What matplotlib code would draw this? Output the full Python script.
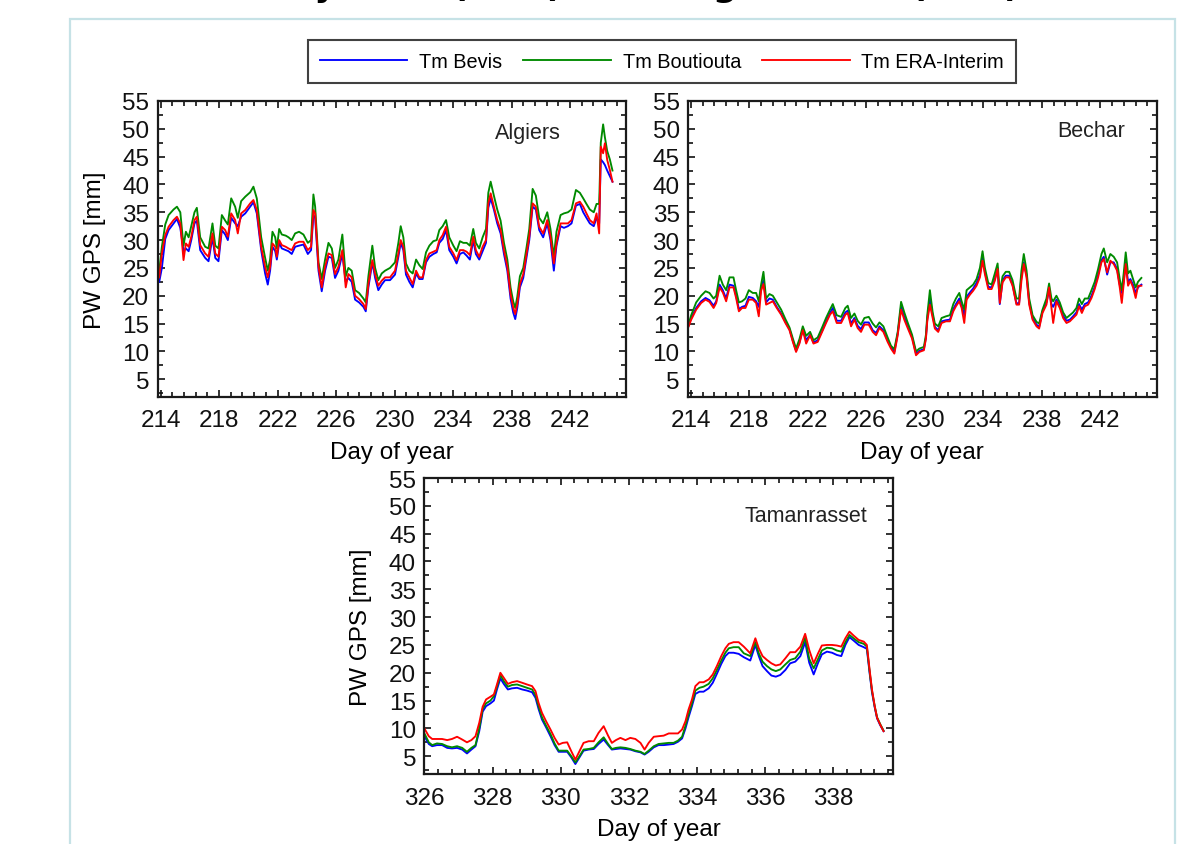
import matplotlib
matplotlib.use("Agg")
import matplotlib.pyplot as plt
from matplotlib.ticker import MultipleLocator
from matplotlib.patches import Rectangle

# ---- PW GPS series (mm) for the three stations ----
alg_day = [213.91, 214.09, 214.32, 214.55, 214.89, 215.12, 215.35, 215.57, 215.73, 215.92,
           216.10, 216.32, 216.48, 216.71, 217.05, 217.28, 217.55, 217.74, 217.96, 218.19,
           218.42, 218.60, 218.83, 219.10, 219.28, 219.51, 219.79, 220.13, 220.35, 220.58,
           220.88, 221.15, 221.33, 221.49, 221.65, 221.84, 221.95, 222.11, 222.29, 222.56,
           222.75, 222.97, 223.20, 223.47, 223.77, 224.07, 224.29, 224.45, 224.57, 224.80,
           225.02, 225.25, 225.48, 225.71, 225.93, 226.16, 226.43, 226.66, 226.84, 227.07,
           227.30, 227.57, 227.87, 228.03, 228.21, 228.48, 228.67, 228.89, 229.12, 229.35,
           229.69, 230.03, 230.26, 230.42, 230.60, 230.78, 231.01, 231.24, 231.47, 231.69,
           231.92, 232.15, 232.38, 232.65, 232.88, 233.06, 233.29, 233.52, 233.74, 234.02,
           234.24, 234.47, 234.70, 234.93, 235.15, 235.38, 235.56, 235.79, 236.02, 236.25,
           236.41, 236.57, 236.79, 237.02, 237.25, 237.48, 237.71, 237.93, 238.11, 238.25,
           238.39, 238.57, 238.80, 239.03, 239.21, 239.44, 239.66, 239.89, 240.16, 240.44,
           240.66, 240.89, 241.07, 241.35, 241.58, 241.85, 242.10, 242.40, 242.67, 242.90,
           243.12, 243.35, 243.62, 243.81, 243.99, 244.10, 244.26, 244.38, 244.54, 244.72,
           244.90]
alg_era = [23.3, 27.6, 30.9, 32.4, 33.6, 34.2, 33.0, 26.4, 29.4, 28.8,
           30.6, 33.6, 34.2, 29.1, 27.6, 27.0, 31.2, 27.6, 27.0, 32.4,
           31.8, 30.6, 34.8, 33.6, 31.2, 34.8, 35.4, 36.6, 37.2, 35.4,
           28.8, 25.2, 23.3, 25.2, 29.4, 28.8, 27.0, 30.0, 29.1, 28.8,
           28.5, 28.2, 29.4, 29.7, 29.7, 28.2, 28.8, 35.4, 34.8, 25.2,
           21.5, 25.2, 27.6, 27.3, 23.9, 25.2, 28.2, 21.5, 23.9, 23.3,
           20.0, 19.4, 18.5, 17.6, 22.1, 26.4, 23.9, 21.8, 22.7, 23.3,
           23.3, 24.5, 27.6, 30.0, 28.8, 24.5, 23.3, 22.1, 24.5, 23.3,
           23.3, 26.4, 27.6, 27.9, 28.2, 30.0, 30.9, 32.4, 28.8, 27.6,
           26.4, 28.2, 28.2, 27.9, 27.3, 30.6, 28.2, 27.0, 28.8, 30.0,
           36.6, 38.4, 36.0, 33.6, 31.8, 28.2, 25.2, 20.3, 17.9, 16.7,
           18.5, 22.1, 23.9, 27.6, 30.6, 36.6, 36.0, 32.4, 31.2, 33.6,
           30.6, 25.8, 29.4, 33.0, 33.0, 33.0, 33.6, 36.6, 36.9, 36.0,
           34.8, 33.6, 33.0, 34.8, 31.2, 46.8, 45.6, 47.4, 44.4, 42.6,
           40.5]
alg_boutiouta = [24.5, 28.8, 32.8, 34.5, 35.5, 36.0, 35.0, 29.0, 31.5, 30.5,
                 32.5, 35.0, 35.8, 30.5, 28.8, 28.5, 33.0, 29.0, 28.5, 34.5,
                 33.5, 32.8, 37.5, 36.0, 34.0, 37.0, 37.8, 38.6, 39.6, 37.5,
                 30.5, 26.8, 24.5, 26.5, 31.5, 30.5, 28.5, 32.0, 31.0, 30.8,
                 30.5, 30.0, 31.2, 31.5, 31.0, 29.5, 30.0, 38.2, 36.0, 26.0,
                 23.0, 26.5, 29.5, 28.5, 25.0, 26.5, 31.0, 23.5, 25.0, 24.5,
                 21.0, 20.5, 19.5, 18.8, 23.5, 29.0, 25.0, 22.8, 24.0, 24.5,
                 25.0, 26.0, 29.5, 32.5, 30.5, 25.8, 24.5, 24.0, 26.5, 25.5,
                 24.8, 27.8, 29.0, 29.8, 30.0, 31.8, 32.5, 33.6, 30.5, 29.0,
                 28.0, 29.8, 29.5, 29.5, 29.0, 32.0, 29.5, 28.5, 30.5, 32.0,
                 38.5, 40.5, 38.0, 35.5, 33.5, 29.5, 26.5, 21.5, 19.0, 17.8,
                 19.8, 23.5, 25.0, 28.8, 32.0, 39.2, 38.0, 34.0, 33.0, 35.0,
                 32.0, 27.0, 31.5, 34.5, 34.8, 35.0, 35.5, 39.0, 38.5, 37.5,
                 36.5, 35.5, 35.0, 36.5, 36.5, 47.5, 50.8, 48.5, 46.0, 44.5,
                 42.5]
alg_bevis = [22.5, 25.0, 30.2, 31.8, 33.0, 33.8, 32.2, 28.0, 28.5, 28.0,
             30.0, 33.0, 33.5, 28.2, 26.8, 26.2, 30.5, 26.8, 26.2, 31.8,
             31.0, 30.0, 34.0, 33.0, 32.5, 34.2, 34.8, 36.0, 36.8, 34.8,
             28.2, 24.0, 22.0, 24.5, 28.8, 28.0, 26.5, 29.5, 28.5, 28.2,
             28.0, 27.5, 28.8, 29.0, 29.2, 27.5, 28.2, 34.5, 34.0, 24.5,
             20.8, 24.5, 27.0, 26.8, 23.2, 24.5, 27.5, 22.5, 23.2, 22.5,
             19.3, 18.8, 18.0, 17.2, 21.5, 26.0, 23.2, 21.0, 22.0, 22.8,
             22.8, 23.8, 27.0, 29.5, 28.2, 23.8, 22.5, 21.5, 24.0, 23.0,
             23.0, 26.0, 27.0, 27.5, 27.8, 29.5, 30.2, 31.8, 28.2, 27.0,
             25.8, 27.5, 27.8, 27.2, 26.5, 30.0, 27.5, 26.5, 28.0, 29.5,
             35.8, 37.5, 35.5, 33.0, 31.2, 27.5, 24.5, 19.5, 17.0, 15.8,
             17.8, 21.5, 23.2, 27.0, 30.0, 36.0, 35.5, 31.8, 30.5, 33.0,
             30.0, 24.5, 29.0, 32.5, 32.2, 32.5, 33.0, 36.2, 36.5, 35.0,
             34.0, 33.0, 32.5, 34.0, 33.0, 44.5, 44.0, 43.5, 42.5, 41.5,
             40.5]

bec_day = [213.85, 214.02, 214.36, 214.70, 215.00, 215.27, 215.55, 215.73, 215.96, 216.18,
           216.41, 216.64, 216.91, 217.09, 217.28, 217.50, 217.73, 217.96, 218.23, 218.46,
           218.64, 218.80, 218.96, 219.14, 219.37, 219.60, 219.87, 220.17, 220.46, 220.74,
           220.97, 221.19, 221.42, 221.65, 221.88, 222.15, 222.38, 222.67, 222.97, 223.24,
           223.51, 223.70, 223.97, 224.27, 224.56, 224.72, 224.95, 225.18, 225.40, 225.63,
           225.86, 226.16, 226.43, 226.66, 226.89, 227.16, 227.45, 227.68, 227.91, 228.14,
           228.37, 228.59, 228.82, 229.12, 229.39, 229.62, 229.93, 230.07, 230.16, 230.34,
           230.53, 230.68, 230.91, 231.14, 231.44, 231.71, 231.94, 232.12, 232.35, 232.51,
           232.69, 232.85, 233.08, 233.30, 233.53, 233.76, 233.94, 234.10, 234.33, 234.56,
           234.78, 234.97, 235.12, 235.31, 235.53, 235.76, 235.99, 236.26, 236.44, 236.60,
           236.76, 236.95, 237.13, 237.36, 237.63, 237.81, 238.04, 238.31, 238.49, 238.65,
           238.77, 238.99, 239.22, 239.45, 239.68, 239.91, 240.13, 240.36, 240.54, 240.73,
           240.93, 241.16, 241.39, 241.61, 241.84, 242.07, 242.23, 242.46, 242.68, 242.91,
           243.14, 243.32, 243.46, 243.59, 243.73, 243.89, 244.05, 244.23, 244.41, 244.57,
           244.80]
bec_era = [14.5, 15.7, 17.5, 18.7, 19.3, 18.9, 17.8, 18.7, 21.5, 20.6,
           19.0, 21.5, 21.5, 19.6, 17.2, 17.8, 17.8, 19.3, 19.3, 18.7,
           16.3, 20.9, 22.1, 18.4, 18.7, 19.0, 17.8, 16.6, 15.1, 13.8,
           11.7, 9.9, 11.4, 13.8, 11.4, 12.9, 11.4, 11.7, 13.5, 15.1,
           16.6, 17.2, 15.1, 15.1, 16.6, 16.9, 14.5, 15.7, 14.2, 13.5,
           14.8, 14.8, 13.5, 12.9, 14.2, 13.5, 11.7, 10.5, 9.6, 12.9,
           17.5, 15.7, 14.2, 12.3, 9.3, 9.9, 10.2, 12.3, 15.4, 18.4,
           16.0, 14.1, 13.5, 15.1, 15.4, 15.4, 17.2, 18.1, 19.0, 17.8,
           15.1, 19.3, 20.2, 20.9, 21.8, 23.3, 26.3, 23.9, 21.2, 21.2,
           22.7, 24.8, 18.7, 22.4, 23.3, 23.3, 21.8, 18.4, 18.4, 22.7,
           25.7, 23.3, 18.4, 15.7, 14.5, 14.1, 16.9, 18.4, 21.5, 17.8,
           15.1, 19.0, 17.8, 16.0, 15.1, 15.4, 16.0, 16.6, 18.1, 16.9,
           18.1, 18.4, 19.6, 21.2, 23.3, 26.0, 26.6, 24.2, 26.3, 25.7,
           24.5, 21.5, 18.7, 22.1, 25.7, 21.8, 22.7, 21.5, 19.6, 21.8,
           21.8]
bec_boutiouta = [15.0, 16.5, 18.8, 20.0, 20.8, 20.5, 19.5, 20.0, 23.6, 22.0,
                 21.0, 23.3, 23.3, 21.0, 18.8, 19.0, 19.5, 21.0, 20.5, 20.5,
                 19.0, 22.0, 24.3, 19.5, 20.3, 20.0, 18.8, 17.5, 15.8, 14.3,
                 12.3, 10.5, 12.2, 14.5, 12.8, 13.5, 12.0, 12.5, 14.3, 16.0,
                 17.5, 18.5, 16.5, 16.2, 17.8, 18.2, 16.0, 16.8, 15.5, 14.8,
                 16.0, 16.2, 15.0, 14.3, 15.2, 14.5, 12.5, 11.0, 10.4, 13.5,
                 18.9, 17.0, 15.2, 13.0, 10.0, 10.5, 10.8, 13.0, 16.5, 21.0,
                 17.0, 15.0, 14.5, 16.0, 16.3, 16.5, 18.5, 19.5, 20.5, 19.0,
                 17.5, 21.0, 21.5, 22.0, 23.0, 25.0, 28.0, 25.0, 22.3, 22.0,
                 24.0, 25.8, 20.5, 23.5, 24.3, 24.3, 22.8, 19.5, 19.5, 24.5,
                 27.5, 24.5, 19.5, 16.5, 15.3, 15.0, 17.5, 19.5, 22.2, 19.5,
                 19.0, 20.0, 18.8, 17.0, 16.0, 16.5, 17.0, 17.8, 19.5, 18.5,
                 19.5, 19.5, 21.0, 22.5, 24.8, 27.5, 28.5, 26.0, 27.5, 27.0,
                 26.0, 23.0, 21.0, 24.0, 27.8, 24.0, 24.5, 23.0, 21.5, 22.5,
                 23.2]
bec_bevis = [14.7, 16.0, 17.8, 19.0, 19.6, 19.2, 18.2, 19.0, 22.0, 21.0,
             19.5, 22.0, 21.8, 20.0, 17.6, 18.0, 18.2, 19.8, 19.6, 19.0,
             18.0, 21.5, 22.8, 18.8, 19.5, 19.3, 18.0, 16.8, 15.3, 14.0,
             11.9, 10.1, 11.6, 14.0, 12.0, 13.0, 11.6, 12.0, 13.7, 15.4,
             16.9, 17.8, 15.5, 15.5, 17.0, 17.3, 15.0, 16.0, 14.6, 14.0,
             15.2, 15.2, 13.8, 13.3, 14.5, 13.8, 12.0, 10.8, 9.9, 13.2,
             18.0, 16.2, 14.6, 12.6, 9.6, 10.1, 10.4, 12.5, 15.8, 19.5,
             16.5, 14.4, 13.8, 15.4, 15.6, 15.7, 17.6, 18.5, 19.5, 18.2,
             16.5, 19.8, 20.6, 21.3, 22.3, 23.8, 26.8, 24.3, 21.6, 21.5,
             23.0, 25.0, 18.5, 22.8, 23.6, 23.6, 22.0, 18.6, 18.7, 23.5,
             26.0, 23.7, 18.8, 16.0, 14.8, 14.4, 17.2, 18.8, 21.0, 18.5,
             18.0, 19.3, 18.2, 16.4, 15.5, 15.7, 16.3, 17.0, 18.5, 17.5,
             18.5, 18.8, 20.0, 21.6, 23.8, 26.4, 27.0, 23.8, 26.0, 26.0,
             24.8, 22.0, 20.5, 22.5, 26.0, 22.5, 23.0, 22.0, 20.5, 21.5,
             22.0]

tam_day = [326.01, 326.13, 326.23, 326.37, 326.52, 326.67, 326.81, 326.96, 327.11, 327.25,
           327.38, 327.50, 327.61, 327.71, 327.81, 327.94, 328.04, 328.13, 328.23, 328.33,
           328.45, 328.57, 328.72, 328.87, 329.01, 329.16, 329.26, 329.35, 329.45, 329.57,
           329.70, 329.82, 329.94, 330.06, 330.19, 330.31, 330.43, 330.55, 330.67, 330.82,
           330.97, 331.11, 331.26, 331.39, 331.50, 331.62, 331.75, 331.90, 332.04, 332.19,
           332.34, 332.46, 332.58, 332.73, 332.87, 333.02, 333.17, 333.31, 333.44, 333.56,
           333.66, 333.75, 333.85, 333.95, 334.07, 334.19, 334.34, 334.46, 334.58, 334.71,
           334.83, 334.93, 335.07, 335.22, 335.37, 335.56, 335.71, 335.81, 335.92, 336.05,
           336.18, 336.31, 336.44, 336.59, 336.73, 336.88, 337.03, 337.17, 337.29, 337.42,
           337.55, 337.66, 337.81, 337.96, 338.10, 338.23, 338.35, 338.47, 338.59, 338.74,
           338.89, 338.98, 339.06, 339.13, 339.21, 339.28, 339.37, 339.47]
tam_era = [9.9, 8.6, 8.1, 8.1, 8.1, 7.9, 8.1, 8.5, 8.0, 7.5,
           7.9, 8.6, 11.0, 13.9, 15.2, 15.7, 16.1, 17.9, 20.0, 19.1,
           18.0, 18.3, 18.5, 18.2, 17.9, 17.6, 16.7, 14.6, 12.8, 11.3,
           9.8, 8.3, 7.1, 7.4, 7.5, 5.9, 4.4, 5.9, 7.4, 7.7,
           7.7, 9.2, 10.4, 8.7, 7.4, 7.9, 8.3, 7.9, 8.3, 8.1,
           7.4, 6.2, 7.4, 8.5, 8.6, 8.7, 9.1, 9.1, 9.1, 9.8,
           11.3, 13.4, 15.2, 17.6, 18.3, 18.3, 18.8, 19.7, 21.2, 23.0,
           24.4, 25.2, 25.5, 25.5, 24.7, 23.5, 26.2, 24.4, 23.0, 22.3,
           21.7, 21.3, 21.5, 22.6, 23.7, 23.7, 24.7, 27.0, 24.1, 21.7,
           23.5, 24.9, 25.0, 25.0, 24.9, 24.7, 26.2, 27.4, 26.7, 25.9,
           25.6, 25.0, 20.6, 17.0, 14.0, 11.9, 10.7, 9.5]
tam_boutiouta = [9.0, 7.5, 7.0, 7.3, 7.2, 6.8, 6.6, 6.8, 6.5, 5.8,
                 6.5, 7.0, 10.0, 13.5, 14.5, 15.0, 15.8, 17.5, 19.6, 18.5,
                 17.5, 17.8, 17.9, 17.6, 17.3, 17.0, 16.0, 14.0, 12.0, 10.5,
                 9.0, 7.3, 6.0, 6.0, 6.0, 5.0, 3.9, 5.0, 6.2, 6.3,
                 6.5, 7.5, 8.4, 7.2, 6.3, 6.5, 6.6, 6.5, 6.3, 6.0,
                 5.8, 5.4, 6.0, 6.8, 7.2, 7.3, 7.4, 7.4, 7.8, 8.5,
                 10.5, 12.5, 14.5, 16.8, 17.3, 17.5, 18.0, 19.0, 20.5, 22.2,
                 23.6, 24.4, 24.6, 24.6, 23.5, 23.0, 25.5, 23.5, 22.0, 21.2,
                 20.6, 20.3, 20.6, 21.5, 22.3, 22.6, 23.8, 26.3, 22.5, 20.8,
                 22.5, 24.0, 24.5, 24.4, 24.0, 23.8, 25.5, 26.8, 26.2, 25.5,
                 25.2, 24.7, 20.3, 16.8, 14.0, 12.0, 10.8, 9.6]
tam_bevis = [8.5, 7.2, 6.8, 7.0, 7.0, 6.5, 6.4, 6.5, 6.2, 5.5,
             6.2, 6.8, 9.5, 13.0, 14.0, 14.5, 15.0, 17.0, 19.0, 18.0,
             17.0, 17.2, 17.3, 17.0, 16.8, 16.5, 15.5, 13.5, 11.6, 10.2,
             8.6, 7.0, 5.8, 5.8, 5.8, 4.8, 3.6, 4.8, 6.0, 6.2,
             6.3, 7.2, 8.0, 7.0, 6.2, 6.3, 6.4, 6.3, 6.2, 5.9,
             5.7, 5.3, 5.8, 6.6, 7.0, 7.0, 7.1, 7.2, 7.6, 8.2,
             10.0, 12.0, 14.0, 16.2, 16.6, 16.6, 17.2, 18.2, 19.8, 21.6,
             23.0, 23.6, 23.6, 23.4, 22.8, 22.2, 25.0, 23.0, 21.2, 20.3,
             19.5, 19.3, 19.6, 20.5, 21.7, 22.0, 23.0, 25.5, 21.8, 19.7,
             21.8, 23.3, 23.8, 23.6, 23.2, 23.0, 25.0, 26.4, 25.8, 25.0,
             24.6, 24.3, 20.0, 16.5, 13.8, 11.8, 10.6, 9.5]

series_names = ["Tm Bevis", "Tm Boutiouta", "Tm ERA-Interim"]
series_colors = ["#0000ff", "#008a00", "#ff0000"]

plt.rcParams["font.family"] = ["Liberation Sans", "DejaVu Sans"]

fig = plt.figure(figsize=(11.87, 8.45), dpi=100)
fig.patch.set_facecolor("white")

# page frame and the heading running off the top edge
fig.add_artist(Rectangle((70 / 1187, -0.05), 1105 / 1187, 1.05 - 20 / 845,
                         transform=fig.transFigure, fill=False,
                         edgecolor="#c6e2e6", linewidth=1.6))
fig.text(238 / 1187, 1.0 + 3.8 / 845, "Daily PWV (GPS) over Algeria and (ERA)",
         fontsize=25, fontweight="bold", family="DejaVu Sans",
         ha="left", va="baseline", color="black")


def draw_station(rect, days, bevis, boutiouta, era, name, name_xy,
                 xlim, xmajor, xminor, xstart, ylabel=True):
    ax = fig.add_axes(rect)
    lines = []
    for vals, col, lab in zip([bevis, boutiouta, era], series_colors, series_names):
        ln, = ax.plot(days, vals, color=col, lw=1.35, label=lab)
        lines.append(ln)
    ax.set_xlim(*xlim)
    ax.set_ylim(1.8, 55)
    ax.xaxis.set_major_locator(MultipleLocator(xmajor, offset=xstart))
    ax.xaxis.set_minor_locator(MultipleLocator(xminor, offset=xstart))
    ax.yaxis.set_major_locator(MultipleLocator(5))
    ax.yaxis.set_minor_locator(MultipleLocator(2.5))
    ax.tick_params(which="both", direction="in", top=True, right=True,
                   labelsize=17.5, colors="#111111", width=1.2)
    ax.tick_params(which="major", length=5)
    ax.tick_params(which="minor", length=3.5)
    ax.tick_params(axis="x", which="major", pad=9)
    ax.tick_params(axis="y", which="major", pad=6)
    for s in ax.spines.values():
        s.set_linewidth(1.6)
        s.set_color("#1a1a1a")
    ax.set_xlabel("Day of year", fontsize=17.5, labelpad=7)
    if ylabel:
        ax.set_ylabel("PW GPS [mm]", fontsize=17.5, labelpad=12)
    ax.text(name_xy[0], name_xy[1], name, transform=ax.transAxes,
            fontsize=15.5, ha="center", va="center", color="#222222")
    return ax, lines


ax_alg, handles = draw_station([0.1328, 0.529, 0.3949, 0.3503], alg_day,
                               alg_bevis, alg_boutiouta, alg_era, "Algiers",
                               (0.79, 0.895), (213.8, 245.85), 4, 0.8, 214)
draw_station([0.5796, 0.529, 0.3949, 0.3503], bec_day, bec_bevis,
             bec_boutiouta, bec_era, "Bechar", (0.86, 0.90),
             (213.8, 245.85), 4, 0.8, 214, ylabel=False)
draw_station([0.3575, 0.0828, 0.3949, 0.3503], tam_day, tam_bevis,
             tam_boutiouta, tam_era, "Tamanrasset", (0.814, 0.872),
             (326, 339.75), 2, 0.4, 326)

leg = fig.legend(handles=handles, loc="center", ncol=3,
                 bbox_to_anchor=(662 / 1187, 1 - 62.5 / 845),
                 fontsize=14.3, handlelength=4.4, handletextpad=0.6,
                 columnspacing=1.06, borderpad=0.6, fancybox=False,
                 frameon=True)
leg.get_frame().set_edgecolor("#111111")
leg.get_frame().set_linewidth(1.5)

fig.savefig("out.png", dpi=100)
